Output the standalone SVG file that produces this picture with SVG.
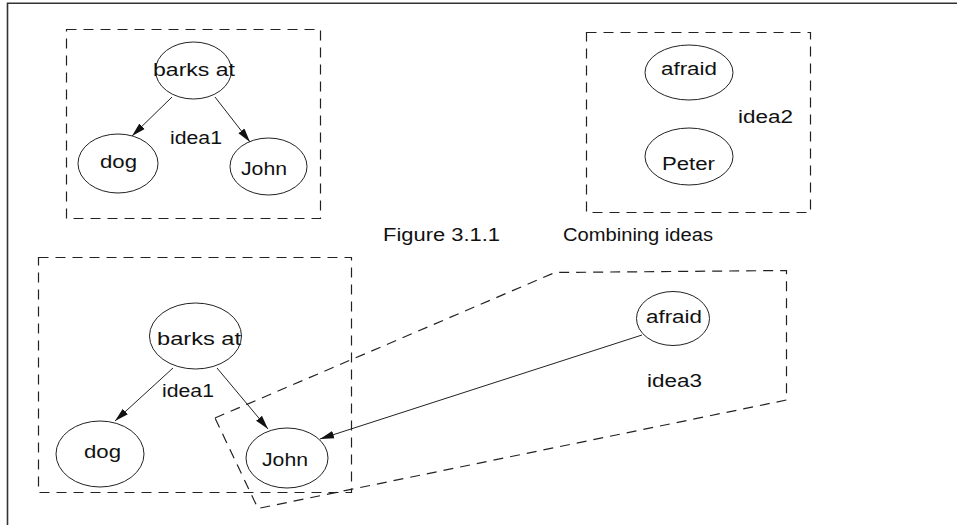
<svg xmlns="http://www.w3.org/2000/svg" width="957" height="525" viewBox="0 0 957 525">
  <style>
    .frame { stroke: #333; stroke-width: 1.6; fill: none; }
    .box { fill: none; stroke: #222; stroke-width: 1.2; stroke-dasharray: 10 7; }
    .node { fill: #fff; stroke: #222; stroke-width: 1; }
    .lbl { font-family: "Liberation Sans", Arial, sans-serif; font-size: 17.5px; fill: #111; }
    .edge { stroke: #222; stroke-width: 1; fill: none; marker-end: url(#arrow); }
  </style>
  <defs>
    <marker id="arrow" markerUnits="userSpaceOnUse" markerWidth="15" markerHeight="10" refX="14" refY="5" orient="auto">
      <path d="M0,1.2 L14,5 L0,8.8 Z" fill="#111"/>
    </marker>
  </defs>
  <rect width="957" height="525" fill="#fff"/>
  <path class="frame" d="M7.5,525 V3.2 H957"/>

  <!-- containers -->
  <g id="idea1-top">
    <rect class="box" x="66.5" y="29.5" width="254" height="189"/>
    <text class="lbl" x="170" y="144" textLength="52" lengthAdjust="spacingAndGlyphs">idea1</text>
  </g>
  <g id="idea2">
    <rect class="box" x="586.5" y="32.5" width="224" height="180"/>
    <text class="lbl" x="738" y="123" textLength="55" lengthAdjust="spacingAndGlyphs">idea2</text>
  </g>
  <g id="idea1-bottom">
    <rect class="box" x="38.5" y="257.5" width="313" height="235"/>
    <text class="lbl" x="162" y="397" textLength="52" lengthAdjust="spacingAndGlyphs">idea1</text>
  </g>
  <g id="idea3">
    <path class="box" d="M215,418 L555,272.5 L786.5,270.5 L786.5,400 L258,508.5 Z"/>
    <text class="lbl" x="647" y="387" textLength="55" lengthAdjust="spacingAndGlyphs">idea3</text>
  </g>

  <g id="caption">
    <text class="lbl" x="383" y="241" textLength="117" lengthAdjust="spacingAndGlyphs">Figure 3.1.1</text>
    <text class="lbl" x="563" y="241" textLength="150" lengthAdjust="spacingAndGlyphs">Combining ideas</text>
  </g>

  <!-- connectors -->
  <g id="connectors">
    <line class="edge" x1="172" y1="97" x2="132" y2="136"/>
    <line class="edge" x1="215" y1="97" x2="250" y2="142"/>
    <line class="edge" x1="173" y1="368" x2="115" y2="421"/>
    <line class="edge" x1="217" y1="368" x2="268" y2="429"/>
    <line class="edge" x1="642" y1="335" x2="320" y2="439"/>
  </g>

  <!-- nodes -->
  <g id="barks-at-top">
    <ellipse class="node" cx="193.5" cy="70.5" rx="38" ry="28.5"/>
    <text class="lbl" x="153" y="76" textLength="82" lengthAdjust="spacingAndGlyphs">barks at</text>
  </g>
  <g id="dog-top">
    <ellipse class="node" cx="118" cy="163.5" rx="40" ry="29.5"/>
    <text class="lbl" x="100" y="168" textLength="37" lengthAdjust="spacingAndGlyphs">dog</text>
  </g>
  <g id="john-top">
    <ellipse class="node" cx="268.5" cy="166.5" rx="38.5" ry="28.5"/>
    <text class="lbl" x="241" y="175" textLength="46" lengthAdjust="spacingAndGlyphs">John</text>
  </g>
  <g id="afraid-top">
    <ellipse class="node" cx="689" cy="72.5" rx="44" ry="27.5"/>
    <text class="lbl" x="661" y="75" textLength="56" lengthAdjust="spacingAndGlyphs">afraid</text>
  </g>
  <g id="peter">
    <ellipse class="node" cx="689" cy="156.5" rx="44" ry="28.5"/>
    <text class="lbl" x="662" y="170" textLength="53" lengthAdjust="spacingAndGlyphs">Peter</text>
  </g>
  <g id="barks-at-bottom">
    <ellipse class="node" cx="195.5" cy="336" rx="46" ry="33"/>
    <text class="lbl" x="157" y="345" textLength="84" lengthAdjust="spacingAndGlyphs">barks at</text>
  </g>
  <g id="dog-bottom">
    <ellipse class="node" cx="100" cy="454" rx="44" ry="33"/>
    <text class="lbl" x="84" y="458" textLength="37" lengthAdjust="spacingAndGlyphs">dog</text>
  </g>
  <g id="john-bottom">
    <ellipse class="node" cx="287" cy="458" rx="41" ry="30"/>
    <text class="lbl" x="262" y="466" textLength="46" lengthAdjust="spacingAndGlyphs">John</text>
  </g>
  <g id="afraid-bottom">
    <ellipse class="node" cx="673" cy="318.5" rx="36.5" ry="27"/>
    <text class="lbl" x="646" y="323" textLength="56" lengthAdjust="spacingAndGlyphs">afraid</text>
  </g>
</svg>
